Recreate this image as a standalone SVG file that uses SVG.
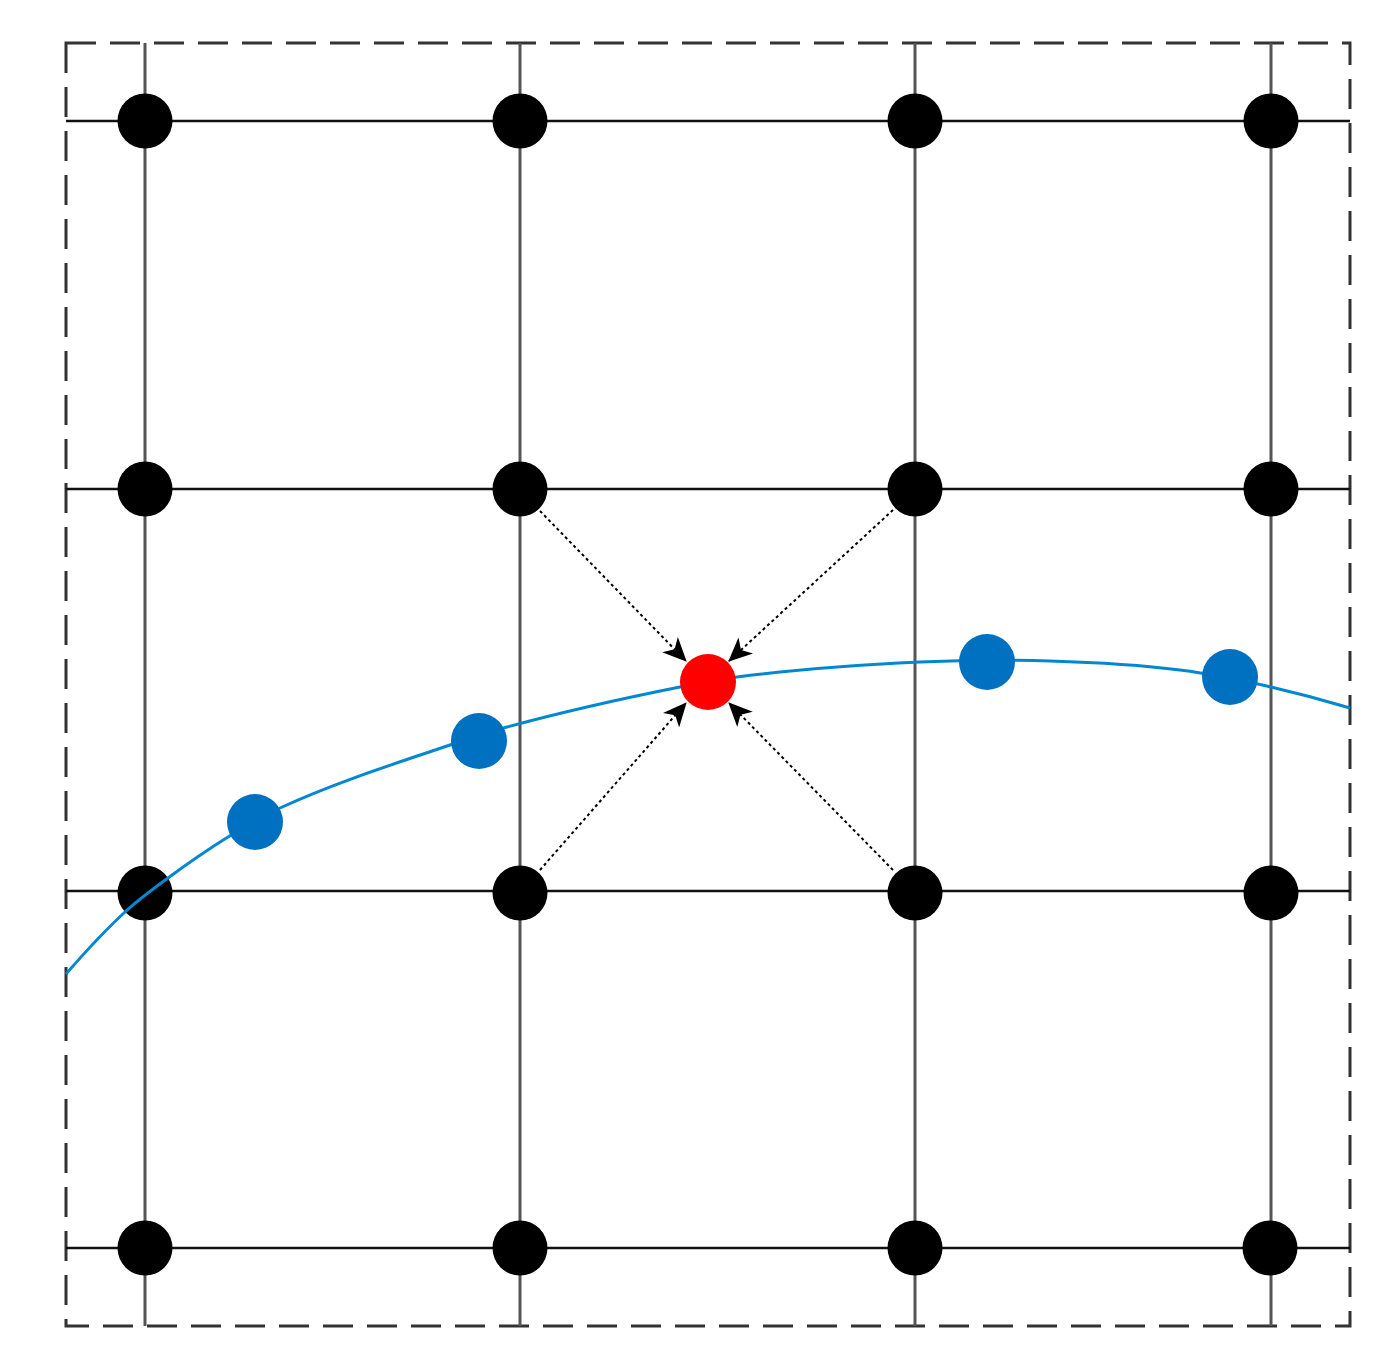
<svg xmlns="http://www.w3.org/2000/svg" width="1384" height="1353" viewBox="0 0 1384 1353">
<style>
.frame{fill:none;stroke:#333;stroke-width:3;stroke-dasharray:30,14}
.vline{stroke:#555;stroke-width:3}
.hline{stroke:#111;stroke-width:2.5}
.grid{fill:#000}
.blue{fill:#0070C0}
.curve{fill:none;stroke:#0288D1;stroke-width:3}
.arrow{stroke:#000;stroke-width:2;stroke-dasharray:3,3;marker-end:url(#ah)}
</style>
<defs>
<marker id="ah" markerUnits="userSpaceOnUse" markerWidth="24" markerHeight="22" viewBox="0 0 22 20" refX="21" refY="10" orient="auto">
<path d="M0,0 L22,10 L0,20 L6,10 z" fill="#000"/>
</marker>
</defs>
<rect width="1384" height="1353" fill="#fff"/>
<rect class="frame" x="66" y="43" width="1284" height="1283"/>
<g id="grid-lines">
<line class="vline" x1="145" y1="43" x2="145" y2="1326"/>
<line class="vline" x1="520" y1="43" x2="520" y2="1326"/>
<line class="vline" x1="915" y1="43" x2="915" y2="1326"/>
<line class="vline" x1="1271" y1="43" x2="1271" y2="1326"/>
<line class="hline" x1="66" y1="121" x2="1350" y2="121"/>
<line class="hline" x1="66" y1="489" x2="1350" y2="489"/>
<line class="hline" x1="66" y1="891" x2="1350" y2="891"/>
<line class="hline" x1="66" y1="1248" x2="1350" y2="1248"/>
</g>
<g id="grid-nodes">
<circle id="n00" class="grid" cx="145" cy="121" r="27.5"/>
<circle id="n01" class="grid" cx="520" cy="121" r="27.5"/>
<circle id="n02" class="grid" cx="915" cy="121" r="27.5"/>
<circle id="n03" class="grid" cx="1271" cy="121" r="27.5"/>
<circle id="n10" class="grid" cx="145" cy="489" r="27.5"/>
<circle id="n11" class="grid" cx="520" cy="489" r="27.5"/>
<circle id="n12" class="grid" cx="915" cy="489" r="27.5"/>
<circle id="n13" class="grid" cx="1271" cy="489" r="27.5"/>
<circle id="n20" class="grid" cx="145" cy="893" r="27.5"/>
<circle id="n21" class="grid" cx="520" cy="893" r="27.5"/>
<circle id="n22" class="grid" cx="915" cy="893" r="27.5"/>
<circle id="n23" class="grid" cx="1271" cy="893" r="27.5"/>
<circle id="n30" class="grid" cx="145" cy="1248" r="27.5"/>
<circle id="n31" class="grid" cx="520" cy="1248" r="27.5"/>
<circle id="n32" class="grid" cx="915" cy="1248" r="27.5"/>
<circle id="n33" class="grid" cx="1270" cy="1248" r="27.5"/>
</g>
<g id="curve">
<path class="curve" d="M66,974 C85.67,951.4 105.33,930.1 125,912 C139.33,898.8 153.67,888.6 168,878 C188,863.2 208,849.4 228,837 C245.33,826.3 262.67,816 280,808 C336.67,781.9 393.33,764.3 450,745 C469,738.5 488,732.1 507,727 C564.67,711.4 622.33,698.5 680,687 C699,683.2 718,679.5 737,677 C798,669.1 859,664.7 920,662 C963.33,660.05 1006.67,659.7 1050,661 C1093.33,662.3 1136.67,664.5 1180,670 C1210.33,673.9 1240.67,680 1271,687 C1297.33,693.1 1323.67,700.1 1350,708"/>
</g>
<g id="connectors">
<line class="arrow" x1="540" y1="511" x2="686" y2="661"/>
<line class="arrow" x1="893" y1="510" x2="729" y2="661"/>
<line class="arrow" x1="540" y1="870" x2="686" y2="703"/>
<line class="arrow" x1="893" y1="870" x2="729" y2="703"/>
</g>
<g id="blue-nodes">
<circle id="b1" class="blue" cx="255" cy="822" r="28"/>
<circle id="b2" class="blue" cx="479" cy="741" r="28"/>
<circle id="b3" class="blue" cx="987" cy="662" r="28"/>
<circle id="b4" class="blue" cx="1230" cy="677" r="28"/>
</g>
<g id="target">
<circle id="red" cx="708" cy="682" r="28" fill="#FF0000"/>
</g>
</svg>
